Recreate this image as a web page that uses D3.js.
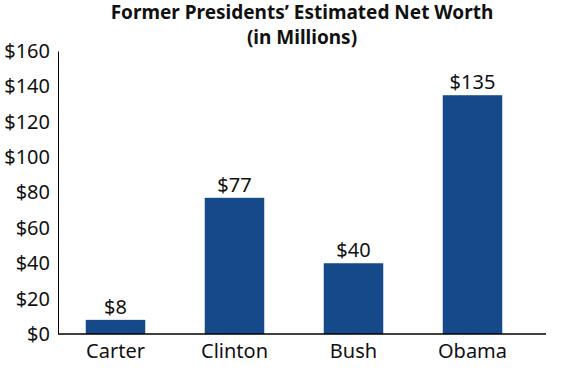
<!DOCTYPE html>
<html lang="en">
  <head>
    <meta charset="UTF-8" />
    <title>Former Presidents' Estimated Net Worth</title>
    <style>
      body { margin: 0; background: #fff; }
      text { font-family: "Noto Sans", "Open Sans", sans-serif; fill: #111; }
    </style>
  </head>
  <body>
    <svg width="566" height="373"></svg>

    <script src="https://d3js.org/d3.v7.min.js"></script>
    <script>
      // data
      var presidents = ["Carter", "Clinton", "Bush", "Obama"];
      var netWorth = [8, 77, 40, 135];
      var yTicks = [0, 20, 40, 60, 80, 100, 120, 140, 160];

      var svg = d3.select("svg");

      var x = d3.scaleBand().domain(presidents).range([56, 532]).paddingInner(0.5).paddingOuter(0.25);
      var y = d3.scaleLinear().domain([0, 160]).range([334, 51]);

      // title
      svg.append("text")
        .attr("x", 302).attr("y", 19)
        .attr("text-anchor", "middle")
        .style("font-weight", "bold").style("font-size", "19px")
        .text("Former Presidents’ Estimated Net Worth");
      svg.append("text")
        .attr("x", 302).attr("y", 44)
        .attr("text-anchor", "middle")
        .style("font-weight", "bold").style("font-size", "19px")
        .text("(in Millions)");

      // y axis
      var yAxis = d3.axisLeft(y).tickValues(yTicks).tickSize(0).tickPadding(8)
        .tickFormat(function (d) { return "$" + d; });
      var gy = svg.append("g").attr("transform", "translate(58,0)").call(yAxis);
      gy.select(".domain").attr("stroke", "#000");
      gy.selectAll("text").style("font-size", "20px").attr("fill", "#111");

      // bars
      svg.selectAll("rect.bar")
        .data(netWorth)
        .enter()
        .append("rect")
        .attr("class", "bar")
        .attr("x", function (d, i) { return x(presidents[i]); })
        .attr("width", x.bandwidth())
        .attr("y", function (d) { return y(d); })
        .attr("height", function (d) { return y(0) - y(d); })
        .attr("fill", "#15498a");

      // value labels
      svg.selectAll("text.val")
        .data(netWorth)
        .enter()
        .append("text")
        .attr("class", "val")
        .attr("x", function (d, i) { return x(presidents[i]) + x.bandwidth() / 2; })
        .attr("y", function (d) { return y(d) - 6; })
        .attr("text-anchor", "middle")
        .style("font-size", "20px")
        .text(function (d) { return "$" + d; });

      // x axis
      var xAxis = d3.axisBottom(x).tickSize(0).tickPadding(10);
      var gx = svg.append("g").attr("transform", "translate(0,334)").call(xAxis);
      gx.select(".domain").attr("d", "M58,0H546").attr("stroke", "#000").attr("stroke-width", 1.5);
      gx.selectAll("text").style("font-size", "20px").attr("fill", "#111");
    </script>
  </body>
</html>
